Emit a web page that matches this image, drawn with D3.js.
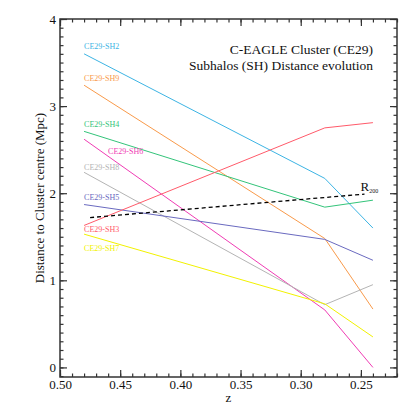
<!DOCTYPE html>
<html lang="en">
<head>
<meta charset="UTF-8">
<title>C-EAGLE CE29 subhalos</title>
<script src="https://cdn.jsdelivr.net/npm/d3@7"></script>
<style>
    body, html {margin: 0; padding: 0; background: #fff;}
    svg text {font-family: "Liberation Serif", "DejaVu Serif", serif; fill: #111;}
    .tick line {stroke: #333; stroke-width: 1.2;}
    .domain {display: none;}
</style>
</head>
<body>
<div class="marco"></div>
<script>
// redshift of the three snapshots
const redshift = [0.48, 0.28, 0.24];
const names = ["CE29-SH2", "CE29-SH9", "CE29-SH4", "CE29-SH6", "CE29-SH8", "CE29-SH5", "CE29-SH3", "CE29-SH7"];
// distance to cluster centre (Mpc), one array per subhalo
const sh2 = [3.60, 2.17, 1.60];
const sh9 = [3.24, 1.48, 0.67];
const sh4 = [2.71, 1.84, 1.92];
const sh6 = [2.62, 0.66, 0.00];
const sh8 = [2.24, 0.72, 0.95];
const sh5 = [1.87, 1.47, 1.23];
const sh3 = [1.63, 2.75, 2.81];
const sh7 = [1.53, 0.73, 0.35];
// R200 of the cluster
const r200z = [0.475, 0.247];
const r200 = [1.72, 1.99];
const xTicks = [0.50, 0.45, 0.40, 0.35, 0.30, 0.25];
const yTicks = [0, 1, 2, 3, 4];

const series = [sh2, sh9, sh4, sh6, sh8, sh5, sh3, sh7];
const colors = ["#3cb4e4", "#f99a4a", "#33c47a", "#f03cb4", "#b4b4b4", "#6a6ac0", "#ff5a6a", "#f2f200"];
// label offset from first point (px)
const labelOff = [[0, -5], [0, -4.5], [0, -4.5], [24, 15], [0, -2.5], [0, -4.5], [0, 7], [0, 16.5]];

var width = 415, height = 415,
    pLeft = 60, pRight = 397, pTop = 19, pBottom = 377;

var svg = d3.select(".marco").append("svg")
    .attr("width", width)
    .attr("height", height);

var x = d3.scaleLinear().domain([0.50, 0.22]).range([pLeft, pRight]),
    y = d3.scaleLinear().domain([-0.11, 4.0]).range([pBottom, pTop]);

var xMinor = d3.range(22, 51).map(i => i / 100),
    yMinor = d3.range(-1, 41).map(i => i / 10);

// minor ticks all round
svg.append("g").attr("transform", `translate(0,${pBottom})`)
    .call(d3.axisBottom(x).tickValues(xMinor).tickSize(-3.5).tickFormat(""));
svg.append("g").attr("transform", `translate(0,${pTop})`)
    .call(d3.axisTop(x).tickValues(xMinor).tickSize(-3.5).tickFormat(""));
svg.append("g").attr("transform", `translate(${pLeft},0)`)
    .call(d3.axisLeft(y).tickValues(yMinor).tickSize(-3.5).tickFormat(""));
svg.append("g").attr("transform", `translate(${pRight},0)`)
    .call(d3.axisRight(y).tickValues(yMinor).tickSize(-3.5).tickFormat(""));

// major ticks
svg.append("g").attr("transform", `translate(0,${pBottom})`)
    .call(d3.axisBottom(x).tickValues(xTicks).tickSize(-7).tickPadding(3).tickFormat(d3.format(".2f")))
    .selectAll("text").attr("font-size", "13px");
svg.append("g").attr("transform", `translate(0,${pTop})`)
    .call(d3.axisTop(x).tickValues(xTicks).tickSize(-7).tickFormat(""));
svg.append("g").attr("transform", `translate(${pLeft},0)`)
    .call(d3.axisLeft(y).tickValues(yTicks).tickSize(-7).tickPadding(4).tickFormat(d3.format("d")))
    .selectAll("text").attr("font-size", "13px");
svg.append("g").attr("transform", `translate(${pRight},0)`)
    .call(d3.axisRight(y).tickValues(yTicks).tickSize(-7).tickFormat(""));

// frame
svg.append("rect")
    .attr("x", pLeft).attr("y", pTop)
    .attr("width", pRight - pLeft).attr("height", pBottom - pTop)
    .attr("fill", "none").attr("stroke", "#333").attr("stroke-width", 1.5);

var line = d3.line().x(d => x(d[0])).y(d => y(d[1]));

series.forEach((s, i) => {
    var pts = s.map((v, j) => [redshift[j], v]);
    svg.append("path")
        .attr("d", line(pts))
        .attr("fill", "none")
        .attr("stroke", colors[i])
        .attr("stroke-width", 1);
    svg.append("text")
        .attr("x", x(redshift[0]) + labelOff[i][0])
        .attr("y", y(s[0]) + labelOff[i][1])
        .attr("font-size", "8px")
        .style("fill", colors[i])
        .text(names[i]);
});

// R200
svg.append("path")
    .attr("d", line(r200z.map((z, j) => [z, r200[j]])))
    .attr("fill", "none")
    .attr("stroke", "#000")
    .attr("stroke-width", 1.3)
    .attr("stroke-dasharray", "4,3");
var rl = svg.append("text")
    .attr("x", x(r200z[1]) - 4)
    .attr("y", y(r200[1]) - 3)
    .attr("font-size", "13px")
    .text("R");
rl.append("tspan").attr("font-size", "6px").attr("dy", 2).text("200");

// titles
svg.append("text").attr("x", 373).attr("y", 54)
    .attr("text-anchor", "end").attr("font-size", "13.5px")
    .text("C-EAGLE Cluster (CE29)");
svg.append("text").attr("x", 373).attr("y", 70)
    .attr("text-anchor", "end").attr("font-size", "13.5px")
    .text("Subhalos (SH) Distance evolution");

// axis titles
svg.append("text")
    .attr("x", (pLeft + pRight) / 2).attr("y", 402)
    .attr("text-anchor", "middle").attr("font-size", "13px")
    .text("z");
svg.append("text")
    .attr("transform", `translate(44,${(pTop + pBottom) / 2}) rotate(-90)`)
    .attr("text-anchor", "middle").attr("font-size", "13px")
    .text("Distance to Cluster centre (Mpc)");
</script>
</body>
</html>
